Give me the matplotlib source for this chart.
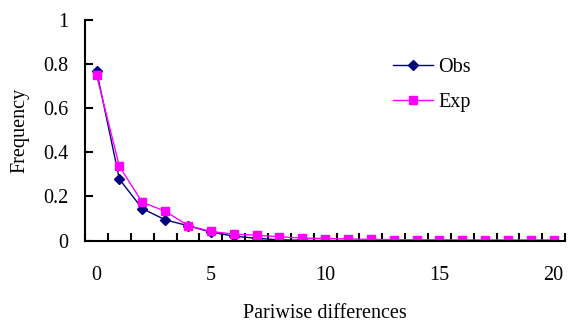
import numpy as np
import matplotlib.pyplot as plt
from matplotlib.ticker import FixedLocator, NullFormatter

plt.rcParams['font.family'] = ['Liberation Serif', 'DejaVu Serif']

# Pairwise differences 0..20
diffs = list(range(21))
obs = [0.771, 0.278, 0.145, 0.094, 0.067, 0.038, 0.020, 0.010, 0.003, 0.001,
       0.0, 0.0, 0.0, 0.0, 0.0, 0.0, 0.0, 0.0, 0.0, 0.0, 0.0]
exp = [0.751, 0.336, 0.174, 0.133, 0.068, 0.041, 0.029, 0.024, 0.017, 0.011,
       0.009, 0.007, 0.005, 0.004, 0.003, 0.003, 0.002, 0.002, 0.002, 0.002, 0.002]
x_labels = [0, 5, 10, 15, 20]
y_ticks = [0, 0.2, 0.4, 0.6, 0.8, 1]

fs = 14.5

fig = plt.figure(figsize=(5.79, 3.25), dpi=100)
ax = fig.add_axes([0.147, 0.26, 0.829, 0.678])

ax.plot(diffs, obs, color='#000080', lw=1, marker='D', ms=5, label='Obs')
ax.plot(diffs, exp, color='#FF00FF', lw=1, marker='s', ms=6, label='Exp')

ax.set_xlim(-0.5, 20.5)
ax.set_ylim(0, 1)
# tick marks between categories, labels under the points
ax.xaxis.set_major_locator(FixedLocator(np.arange(-0.5, 21, 1)))
ax.xaxis.set_major_formatter(NullFormatter())
ax.xaxis.set_minor_locator(FixedLocator(x_labels))
ax.set_xticklabels([str(v) for v in x_labels], minor=True)
ax.tick_params(axis='x', which='major', direction='in', length=6, width=1.5)
ax.tick_params(axis='x', which='minor', length=0, pad=18, labelsize=fs)

ax.set_yticks(y_ticks)
ax.set_yticklabels(['0', '0.2', '0.4', '0.6', '0.8', '1'])
ax.tick_params(axis='y', direction='in', length=6, width=1.5, labelsize=fs, pad=12)

for s in ['top', 'right']:
    ax.spines[s].set_visible(False)
for s in ['left', 'bottom']:
    ax.spines[s].set_linewidth(1.5)

ax.set_xlabel('Pariwise differences', fontsize=fs, labelpad=14)
ax.set_ylabel('Frequency', fontsize=fs, labelpad=10)

ax.legend(loc='upper left', bbox_to_anchor=(0.642, 0.83), frameon=False,
          fontsize=fs, handlelength=1.95, handletextpad=0.3, labelspacing=0.8,
          borderpad=0, borderaxespad=0)

fig.savefig('out.png', dpi=100)
